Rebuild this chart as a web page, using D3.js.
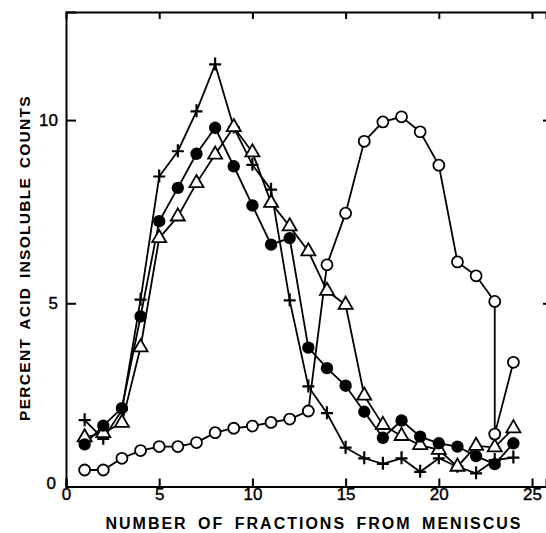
<html>
<head>
<script src="https://d3js.org/d3.v7.min.js"></script>
<style>
  body { margin: 0; background: #fff; }
  svg text { font-family: "Liberation Sans", Arial, sans-serif; fill: #000; }
</style>
</head>
<body>
<script>
// fraction number vs percent acid insoluble counts
var fractions = [1, 2, 3, 4, 5, 6, 7, 8, 9, 10, 11, 12, 13, 14, 15, 16, 17, 18, 19, 20, 21, 22, 23, 24];

var openCircleX = [1, 2, 3, 4, 5, 6, 7, 8, 9, 10, 11, 12, 13, 14, 15, 16, 17, 18, 19, 20, 21, 22, 23, 23, 24];
var openCircleY = [0.45, 0.45, 0.77, 0.98, 1.09, 1.09, 1.2, 1.47, 1.59, 1.65, 1.75, 1.84, 2.06, 6.05, 7.46, 9.42, 9.95, 10.09, 9.68, 8.77, 6.13, 5.75, 5.05, 1.43, 3.39];

var filledCircleY = [1.15, 1.66, 2.14, 4.64, 7.24, 8.15, 9.08, 9.79, 8.74, 7.67, 6.6, 6.78, 3.79, 3.23, 2.75, 2.04, 1.33, 1.8, 1.36, 1.18, 1.09, 0.83, 0.61, 1.18];

var triangleY = [1.34, 1.46, 1.74, 3.8, 6.78, 7.37, 8.28, 9.06, 9.81, 9.12, 7.74, 7.1, 6.42, 5.34, 4.96, 2.48, 1.68, 1.38, 1.13, 1.0, 0.54, 1.11, 1.07, 1.59];

var plusY = [1.81, 1.3, 2.09, 5.1, 8.46, 9.15, 10.24, 11.52, 9.8, 8.78, 8.1, 5.08, 2.73, 2.0, 1.06, 0.77, 0.62, 0.77, 0.4, 0.77, 0.54, 0.36, 0.72, 0.79];

var xTicks = [0, 5, 10, 15, 20, 25];
var yTicks = [0, 5, 10];

var width = 546, height = 533;

var svg = d3.select("body").append("svg")
    .attr("width", width)
    .attr("height", height);

var x = d3.scaleLinear().domain([0, 25.75]).range([66, 546]);
var y = d3.scaleLinear().domain([0, 12.95]).range([486.5, 12]);

// frame: bottom, top, left, and the right ticks (its line is cut off)
svg.append("g")
    .attr("transform", "translate(0," + y(0) + ")")
    .call(d3.axisBottom(x).tickValues(xTicks).tickSize(-8).tickPadding(3).tickFormat(d3.format("d")))
    .call(function (g) {
        g.select(".domain").attr("stroke-width", 2);
        g.selectAll(".tick line").attr("stroke-width", 2);
        g.selectAll(".tick text").attr("font-size", 17).attr("dy", "0.62em")
            .attr("stroke", "#000").attr("stroke-width", 0.4);
    });

svg.append("g")
    .attr("transform", "translate(0," + y(12.95) + ")")
    .call(d3.axisTop(x).tickValues(xTicks.slice(1)).tickSize(-7).tickFormat(""))
    .call(function (g) {
        g.select(".domain").attr("stroke-width", 2);
        g.selectAll(".tick line").attr("stroke-width", 2);
    });

svg.append("g")
    .attr("transform", "translate(" + x(0) + ",0)")
    .call(d3.axisLeft(y).tickValues(yTicks).tickSize(-10).tickPadding(8).tickFormat(d3.format("d")))
    .call(function (g) {
        g.select(".domain").attr("stroke-width", 2);
        g.selectAll(".tick line").attr("stroke-width", 2);
        g.selectAll(".tick text").attr("font-size", 17)
            .attr("stroke", "#000").attr("stroke-width", 0.4);
        g.selectAll(".tick").filter(function (d) { return d === 0; })
            .select("text").attr("dx", -2).attr("dy", "0.1em");
    });

svg.append("g")
    .attr("transform", "translate(546,0)")
    .call(d3.axisRight(y).tickValues([5, 10]).tickSize(-3).tickFormat(""))
    .call(function (g) {
        g.select(".domain").remove();
        g.selectAll(".tick line").attr("stroke-width", 2);
    });

// axis titles
svg.append("text")
    .attr("x", 314)
    .attr("y", 529)
    .attr("text-anchor", "middle")
    .attr("font-size", 16)
    .attr("font-weight", "bold")
    .attr("letter-spacing", 2)
    .attr("word-spacing", 4)
    .text("NUMBER OF FRACTIONS FROM MENISCUS");

svg.append("text")
    .attr("transform", "translate(30,258) rotate(-90)")
    .attr("text-anchor", "middle")
    .attr("font-size", 15.5)
    .attr("font-weight", "bold")
    .attr("letter-spacing", 1.3)
    .attr("word-spacing", 3)
    .text("PERCENT ACID INSOLUBLE COUNTS");

var line = d3.line()
    .x(function (d) { return x(d[0]); })
    .y(function (d) { return y(d[1]); });

function pairs(xs, ys) {
    return xs.map(function (v, i) { return [v, ys[i]]; });
}

var series = [
    { name: "plus", data: pairs(fractions, plusY) },
    { name: "triangle", data: pairs(fractions, triangleY) },
    { name: "filled", data: pairs(fractions, filledCircleY) },
    { name: "open", data: pairs(openCircleX, openCircleY) }
];

series.forEach(function (s) {
    svg.append("path")
        .datum(s.data)
        .attr("fill", "none")
        .attr("stroke", "#000")
        .attr("stroke-width", 1.8)
        .attr("d", line);
});

var tri = d3.symbol().type(d3.symbolTriangle).size(85);

series.forEach(function (s) {
    var g = svg.append("g");
    var pts = g.selectAll("path.m").data(s.data).enter().append("path")
        .attr("class", "m")
        .attr("transform", function (d) { return "translate(" + x(d[0]) + "," + y(d[1]) + ")"; });
    if (s.name === "plus") {
        pts.attr("d", "M-6,0H6M0,-7V6")
            .attr("fill", "none")
            .attr("stroke", "#000")
            .attr("stroke-width", 2.2);
    } else if (s.name === "triangle") {
        pts.attr("d", tri)
            .attr("fill", "#fff")
            .attr("stroke", "#000")
            .attr("stroke-width", 1.8);
    } else if (s.name === "filled") {
        pts.attr("d", d3.symbol().type(d3.symbolCircle).size(120))
            .attr("fill", "#000");
    } else {
        pts.attr("d", d3.symbol().type(d3.symbolCircle).size(95))
            .attr("fill", "#fff")
            .attr("stroke", "#000")
            .attr("stroke-width", 1.8);
    }
});
</script>
</body>
</html>
